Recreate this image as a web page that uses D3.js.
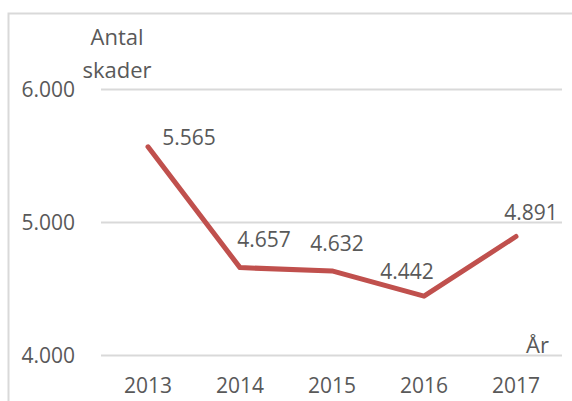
<!doctype html>
<html>
<meta charset="utf-8">
<style>
body { margin: 0; padding: 0; background: #fff; font-family: 'Open Sans', sans-serif; }
text { fill: #595959; }
</style>
<body>
<svg width="572" height="401"></svg>
<script src="https://cdn.jsdelivr.net/npm/d3@7"></script>
<script>

// data
var years = ["2013", "2014", "2015", "2016", "2017"];
var skador = [5565, 4657, 4632, 4442, 4891];
var yTicks = [4000, 5000, 6000];
// label nudges (px), as the labels were placed by hand in the original
var labelDx = [41, 24, 5, -17, 15];
var labelDy = [-10, -29, -28, -25, -24];

var fmt = function(v) { return d3.format(",")(v).replace(/,/g, "."); };

var svg = d3.select("svg");

// outer frame
svg.append("rect")
    .attr("x", 8.5).attr("y", 13.5)
    .attr("width", 580).attr("height", 400)
    .attr("fill", "none")
    .attr("stroke", "#d9d9d9")
    .attr("stroke-width", 2);

var x = d3.scalePoint()
    .domain(years)
    .range([148, 516]);

var y = d3.scaleLinear()
    .domain([4000, 6000])
    .range([355, 89]);

// gridlines
svg.append("g")
  .selectAll("line")
  .data(yTicks)
  .join("line")
    .attr("x1", 101).attr("x2", 562)
    .attr("y1", function(d) { return Math.round(y(d)) + 0.5; })
    .attr("y2", function(d) { return Math.round(y(d)) + 0.5; })
    .attr("stroke", "#d9d9d9")
    .attr("stroke-width", 2);

// y tick labels
svg.append("g")
  .selectAll("text")
  .data(yTicks)
  .join("text")
    .attr("x", 75)
    .attr("y", function(d) { return y(d) + 8; })
    .attr("text-anchor", "end")
    .style("font-size", "21px")
    .text(fmt);

// x tick labels
svg.append("g")
  .selectAll("text")
  .data(years)
  .join("text")
    .attr("x", function(d) { return x(d); })
    .attr("y", 393)
    .attr("text-anchor", "middle")
    .style("font-size", "21px")
    .text(function(d) { return d; });

// axis titles
svg.append("text")
    .attr("x", 117).attr("y", 45)
    .attr("text-anchor", "middle")
    .style("font-size", "22px")
    .text("Antal");
svg.append("text")
    .attr("x", 117).attr("y", 78)
    .attr("text-anchor", "middle")
    .style("font-size", "22px")
    .text("skader");
svg.append("text")
    .attr("x", 549).attr("y", 353)
    .attr("text-anchor", "end")
    .style("font-size", "22px")
    .text("År");

// the line
var line = d3.line()
    .x(function(d, i) { return x(years[i]); })
    .y(function(d) { return y(d); });

svg.append("path")
    .datum(skador)
    .attr("d", line)
    .attr("fill", "none")
    .attr("stroke", "#C0504D")
    .attr("stroke-width", 5)
    .attr("stroke-linejoin", "round")
    .attr("stroke-linecap", "round");

// data labels
svg.append("g")
  .selectAll("text")
  .data(skador)
  .join("text")
    .attr("x", function(d, i) { return x(years[i]) + labelDx[i]; })
    .attr("y", function(d, i) { return y(d) + labelDy[i] + 8; })
    .attr("text-anchor", "middle")
    .style("font-size", "21px")
    .text(fmt);

</script>
</body>
</html>
